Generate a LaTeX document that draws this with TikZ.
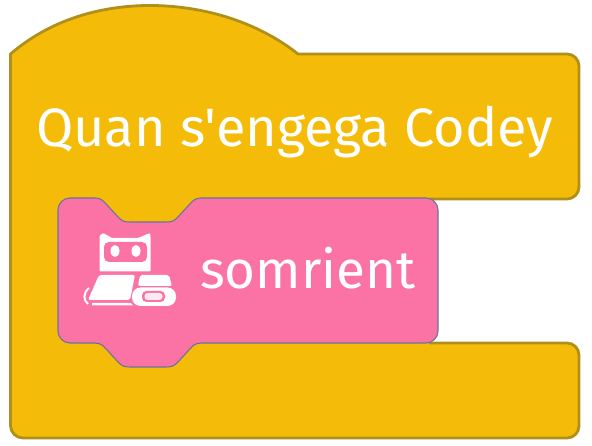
\documentclass[tikz,border=0pt]{standalone}
\usepackage{fontspec}
\setmainfont[Ligatures=NoCommon,Mapping={}]{Fira Sans}
\usepackage{tikz}
\definecolor{hatYellow}{RGB}{244, 188, 8}
\definecolor{hatEdge}{RGB}{176, 143, 26}
\definecolor{blockPink}{RGB}{251, 114, 165}
\definecolor{blockEdge}{RGB}{105, 115, 160}

\begin{document}
\begin{tikzpicture}[x=1pt, y=-1pt,
  hatblock/.style={fill=hatYellow, draw=hatEdge, line width=2.8pt, line join=round},
  pinkblock/.style={fill=blockPink, draw=blockEdge, line width=1.1pt, line join=round},
  blocktext/.style={text=white, inner sep=0pt, anchor=base west},
  iconpart/.style={fill=white, draw=none}]
  \useasboundingbox (0,0) rectangle (592,446);
  % Yellow hat block
  \draw[hatblock] (10.5,54) .. controls (50,20) and (100,5.5) .. (150,5.5)
    .. controls (200,5.5) and (255,20) .. (298,54)
    -- (567,54) arc[start angle=-90, end angle=0, radius=12] -- (579,187)
    arc[start angle=0, end angle=90, radius=12] -- (430,199) -- (430,343)
    -- (567,343) arc[start angle=-90, end angle=0, radius=12] -- (579,426)
    arc[start angle=0, end angle=90, radius=12] -- (23,438)
    arc[start angle=90, end angle=180, radius=12.5] -- cycle;
  % Pink block with its notch
  \draw[pinkblock] (58,210) arc[start angle=180, end angle=270, radius=12]
    -- (95,198) .. controls (102,198) and (104,202) .. (108,206)
    -- (118,217) .. controls (122,221) and (124,222) .. (130,222)
    -- (166,222) .. controls (172,222) and (174,221) .. (178,217)
    -- (188,206) .. controls (192,202) and (194,198) .. (201,198)
    -- (426,198) arc[start angle=-90, end angle=0, radius=12] -- (438,331)
    arc[start angle=0, end angle=90, radius=12] -- (201,343)
    .. controls (194,343) and (192,347) .. (188,351)
    -- (178,362) .. controls (174,366) and (172,367) .. (166,367)
    -- (130,367) .. controls (124,367) and (122,366) .. (118,362)
    -- (108,351) .. controls (104,347) and (102,343) .. (95,343)
    -- (70,343) arc[start angle=90, end angle=180, radius=12] -- cycle;
  % Robot head
  \fill[iconpart, rounded corners=1pt] (99.5,271.5) -- (99.5,236) -- (103,233) -- (112,238)
    -- (138,238) -- (150,233) -- (150.5,236) -- (150.5,271.5) -- cycle;
  \fill[blockPink, rounded corners=5pt] (104,242) rectangle (147,262);
  \foreach \i/\xpos in {1/115, 2/136} {
    \fill[iconpart] (\xpos,251) ellipse[x radius=4.5, y radius=6];
  }
  % Robot body and tracks
  \fill[iconpart, rounded corners=2pt] (99,275) -- (135,275) -- (130,300) -- (88,300) -- cycle;
  \fill[iconpart] (92,303) -- (131,303) -- (133,305.5) -- (92,305.5) -- cycle;
  \draw[white, line width=2pt] (89,288) .. controls (83,293) and (83,300) .. (88,304);
  \fill[iconpart, rounded corners=2pt] (140,275) -- (169,275) -- (172,286) -- (138,286) -- cycle;
  \fill[iconpart, rounded corners=8.5pt] (132,287.5) rectangle (176,306);
  \fill[blockPink, rounded corners=4.5pt] (142,291) rectangle (165,302);
  \fill[white!85!blockPink, rounded corners=3pt] (144.5,293) rectangle (162.5,300);
  % Labels
  \node[blocktext, font=\fontsize{54}{54}\selectfont] (hatlabel) at (36,147) {Quan s'engega Codey};
  \node[blocktext, font=\fontsize{53}{53}\selectfont] (pinklabel) at (200,289) {somrient};
\end{tikzpicture}
\end{document}
